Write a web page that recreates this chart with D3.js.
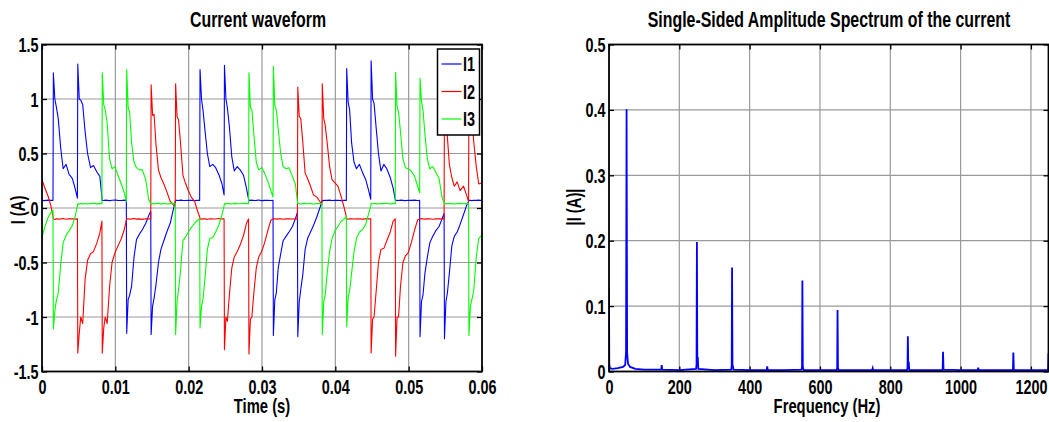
<!DOCTYPE html>
<html><head><meta charset="utf-8">
<script src="https://cdn.jsdelivr.net/npm/d3@7"></script>
<style>body{margin:0;background:#fff}svg{display:block}</style>
</head><body><svg id="c" width="1049" height="422"></svg>
<script>
// ---------- DATA ----------
// switching events of the 6-pulse waveform (s); each segment runs from one event to the next
const eventTimes = [-0.00178,0.00155,0.00488,0.00822,0.01155,0.01488,0.01822,0.02155,0.02488,0.02822,0.03155,0.03488,0.03822,0.04155,0.04488,0.04822,0.05155,0.05488,0.05822,0.06155];
// position of each reading inside a segment (fraction of the segment)
const sampleOffsets = [0,0.06,0.12,0.2,0.3,0.4,0.52,0.64,0.78,0.9,0.985];
// current readings (A), one row per segment
const I1 = [
 [0.07,0.072,0.068,0.07,0.073,0.069,0.071,0.068,0.072,0.07,0.07],
 [1.24,1.0,0.93,0.82,0.55,0.36,0.40,0.31,0.27,0.17,0.09],
 [1.32,1.0,0.99,0.95,0.70,0.50,0.37,0.39,0.33,0.29,0.10],
 [0.07,0.069,0.072,0.07,0.068,0.071,0.073,0.07,0.069,0.072,0.07],
 [-1.15,-0.84,-0.80,-0.72,-0.45,-0.29,-0.24,-0.20,-0.14,-0.07,-0.03],
 [-1.16,-0.90,-0.83,-0.70,-0.50,-0.38,-0.30,-0.22,-0.14,-0.02,0.06],
 [0.07,0.071,0.068,0.072,0.07,0.069,0.071,0.07,0.068,0.071,0.07],
 [1.27,1.0,0.9,0.72,0.5,0.38,0.40,0.37,0.30,0.22,0.12],
 [1.31,1.0,0.92,0.75,0.47,0.34,0.38,0.35,0.30,0.18,0.08],
 [0.07,0.07,0.072,0.069,0.07,0.073,0.068,0.07,0.071,0.069,0.07],
 [-1.17,-0.84,-0.78,-0.55,-0.42,-0.30,-0.26,-0.22,-0.17,-0.10,-0.04],
 [-1.18,-0.86,-0.75,-0.62,-0.38,-0.28,-0.22,-0.16,-0.08,0.0,0.06],
 [0.07,0.068,0.071,0.07,0.072,0.069,0.07,0.071,0.068,0.07,0.07],
 [1.28,0.97,0.9,0.6,0.42,0.36,0.40,0.33,0.26,0.16,0.08],
 [1.35,1.0,0.96,0.75,0.5,0.34,0.40,0.36,0.28,0.18,0.08],
 [0.07,0.071,0.069,0.072,0.07,0.068,0.071,0.07,0.072,0.069,0.07],
 [-1.18,-0.86,-0.8,-0.6,-0.45,-0.32,-0.26,-0.21,-0.17,-0.1,-0.05],
 [-1.20,-0.86,-0.78,-0.6,-0.35,-0.26,-0.22,-0.15,-0.06,0.02,0.06],
 [0.07,0.07,0.068,0.071,0.07,0.072,0.069,0.07,0.071,0.07,0.07]
];
const I2 = [
 [1.15,0.86,0.82,0.62,0.45,0.34,0.27,0.19,0.11,0.02,-0.08],
 [-0.10,-0.105,-0.098,-0.102,-0.1,-0.097,-0.103,-0.1,-0.098,-0.102,-0.1],
 [-1.33,-1.15,-1.0,-1.06,-0.65,-0.48,-0.42,-0.40,-0.32,-0.23,-0.12],
 [-1.33,-1.1,-1.0,-1.06,-0.72,-0.5,-0.41,-0.35,-0.28,-0.2,-0.11],
 [-0.1,-0.098,-0.103,-0.1,-0.097,-0.102,-0.1,-0.104,-0.099,-0.1,-0.1],
 [1.13,0.85,0.86,0.58,0.35,0.28,0.22,0.15,0.06,0.03,0.02],
 [1.14,0.84,0.81,0.6,0.3,0.23,0.16,0.1,0.06,-0.03,-0.08],
 [-0.1,-0.102,-0.099,-0.1,-0.104,-0.098,-0.1,-0.101,-0.097,-0.1,-0.1],
 [-1.30,-1.0,-1.04,-0.8,-0.55,-0.45,-0.40,-0.34,-0.25,-0.14,-0.1],
 [-1.34,-1.02,-1.0,-0.78,-0.55,-0.45,-0.40,-0.32,-0.2,-0.11,-0.1],
 [-0.1,-0.099,-0.102,-0.1,-0.098,-0.103,-0.1,-0.099,-0.101,-0.1,-0.1],
 [1.11,0.84,0.82,0.62,0.32,0.27,0.2,0.12,0.1,0.06,0.03],
 [1.14,0.82,0.76,0.6,0.38,0.26,0.23,0.2,0.1,0.0,-0.08],
 [-0.1,-0.103,-0.099,-0.1,-0.101,-0.098,-0.1,-0.102,-0.1,-0.099,-0.1],
 [-1.33,-1.02,-1.0,-0.78,-0.5,-0.38,-0.37,-0.3,-0.22,-0.12,-0.1],
 [-1.36,-1.0,-1.0,-0.72,-0.5,-0.44,-0.41,-0.32,-0.2,-0.11,-0.1],
 [-0.1,-0.1,-0.098,-0.102,-0.1,-0.099,-0.103,-0.1,-0.098,-0.1,-0.1],
 [1.12,0.84,0.65,0.4,0.28,0.2,0.24,0.16,0.2,0.12,0.06],
 [1.15,0.85,0.8,0.6,0.38,0.22,0.23,0.2,0.1,0.0,-0.08]
];
const I3 = [
 [-1.15,-0.9,-0.85,-0.75,-0.55,-0.38,-0.28,-0.18,-0.09,-0.04,-0.02],
 [-1.11,-0.95,-0.85,-0.78,-0.52,-0.32,-0.25,-0.21,-0.16,-0.07,0.02],
 [0.04,0.035,0.042,0.038,0.041,0.036,0.04,0.043,0.038,0.04,0.04],
 [1.24,0.95,0.9,0.78,0.45,0.36,0.38,0.3,0.22,0.14,0.06],
 [1.27,0.92,0.88,0.6,0.42,0.37,0.35,0.35,0.26,0.08,0.04],
 [0.04,0.042,0.037,0.04,0.043,0.038,0.041,0.036,0.04,0.042,0.04],
 [-1.16,-0.86,-0.75,-0.58,-0.3,-0.27,-0.22,-0.18,-0.14,-0.11,-0.1],
 [-1.10,-0.9,-0.84,-0.65,-0.38,-0.28,-0.27,-0.22,-0.15,-0.06,0.02],
 [0.04,0.038,0.041,0.04,0.036,0.042,0.04,0.039,0.043,0.04,0.04],
 [1.24,0.92,0.9,0.68,0.42,0.35,0.37,0.32,0.24,0.16,0.1],
 [1.30,0.94,0.9,0.72,0.5,0.38,0.36,0.37,0.29,0.22,0.06],
 [0.04,0.041,0.037,0.04,0.042,0.039,0.04,0.036,0.041,0.04,0.04],
 [-1.16,-0.86,-0.8,-0.6,-0.4,-0.28,-0.21,-0.17,-0.12,-0.1,-0.08],
 [-1.09,-0.82,-0.76,-0.6,-0.4,-0.28,-0.22,-0.2,-0.15,-0.05,0.02],
 [0.04,0.039,0.042,0.04,0.037,0.041,0.04,0.043,0.038,0.04,0.04],
 [1.245,0.93,0.88,0.7,0.45,0.37,0.36,0.34,0.29,0.2,0.14],
 [1.19,0.98,0.9,0.68,0.45,0.36,0.38,0.33,0.27,0.1,0.05],
 [0.04,0.042,0.038,0.04,0.041,0.037,0.04,0.042,0.039,0.04,0.04],
 [-1.17,-0.9,-0.84,-0.75,-0.45,-0.28,-0.25,-0.2,-0.15,-0.1,-0.08]
];
const seriesNames = ["I1","I2","I3"];
const seriesColors = ["#0000ff","#ff0000","#00ff00"];
const timeTicks = [0,0.01,0.02,0.03,0.04,0.05,0.06];
const currentTicks = [-1.5,-1,-0.5,0,0.5,1,1.5];

// single-sided spectrum |I(f)|
const specFreq = [0,0.8,2.5,10,25,40,46,48.5,50,51.5,54,60,75,100,148.5,150,151.5,200,247.5,249,250,251.2,252.5,254,300,347.5,349,350,351.2,352.5,354,400,448.5,450,451.5,500,547.5,549,550,551.2,552.5,554,600,647.5,649,650,651.2,652.5,654,700,748.5,750,751.5,800,847.5,849,850,851.2,852.5,854,900,947.5,949,950,951.5,1000,1048.5,1050,1051.5,1100,1147.5,1149,1150,1151.5,1200,1247.5,1249,1250];
const specAmp  = [0.127,0.012,0.005,0.004,0.005,0.007,0.01,0.03,0.401,0.03,0.012,0.007,0.004,0.003,0.003,0.0096,0.003,0.002,0.004,0.01,0.198,0.012,0.022,0.004,0.002,0.003,0.008,0.159,0.01,0.008,0.003,0.002,0.002,0.008,0.002,0.002,0.003,0.006,0.139,0.008,0.004,0.002,0.002,0.002,0.006,0.094,0.006,0.003,0.002,0.002,0.002,0.005,0.002,0.002,0.002,0.005,0.054,0.005,0.015,0.002,0.002,0.002,0.004,0.030,0.003,0.002,0.002,0.006,0.002,0.002,0.002,0.004,0.029,0.002,0.002,0.002,0.005,0.028];
const freqTicks = [0,200,400,600,800,1000,1200];
const ampTicks = [0,0.1,0.2,0.3,0.4,0.5];

// ---------- DRAW ----------
const FONT = "'Liberation Sans',Arial,sans-serif";
const SX = 0.74;
const svg = d3.select("#c");

function label(x, y, txt, size, anchor, rot) {
  const g = svg.append("g").attr("transform", `translate(${x},${y})${rot ? ` rotate(${rot})` : ""} scale(${SX},1)`);
  g.append("text").attr("text-anchor", anchor).attr("font-family", FONT)
    .attr("font-weight", "bold").attr("font-size", size).attr("fill", "#000").text(txt);
}

function frame(x, y, xt, yt, xfmt, yfmt, id) {
  const [x0, x1] = x.range(), [y1, y0] = y.range();
  const g = svg.append("g");
  g.append("g").selectAll("line").data(xt.filter(v => x(v) > x0 + 1 && x(v) < x1 - 1)).join("line")
    .attr("x1", d => x(d)).attr("x2", d => x(d)).attr("y1", y0).attr("y2", y1)
    .attr("stroke", "#9a9a9a").attr("stroke-width", 1.2);
  g.append("g").selectAll("line").data(yt.filter(v => y(v) > y0 + 1 && y(v) < y1 - 1)).join("line")
    .attr("y1", d => y(d)).attr("y2", d => y(d)).attr("x1", x0).attr("x2", x1)
    .attr("stroke", "#9a9a9a").attr("stroke-width", 1.2);
  const axB = svg.append("g").attr("transform", `translate(0,${y1})`).call(d3.axisBottom(x).tickValues(xt).tickSize(-5).tickFormat(xfmt));
  const axT = svg.append("g").attr("transform", `translate(0,${y0})`).call(d3.axisTop(x).tickValues(xt).tickSize(-5).tickFormat(""));
  const axL = svg.append("g").attr("transform", `translate(${x0},0)`).call(d3.axisLeft(y).tickValues(yt).tickSize(-5).tickFormat(yfmt));
  const axR = svg.append("g").attr("transform", `translate(${x1},0)`).call(d3.axisRight(y).tickValues(yt).tickSize(-5).tickFormat(""));
  [axB, axT, axL, axR].forEach(a => { a.select(".domain").remove(); a.selectAll("line").attr("stroke", "#000").attr("stroke-width", 1.3); });
  axB.selectAll("text").attr("y", 0).attr("dy", 0)
    .attr("transform", `translate(0,22.5) scale(${SX},1)`)
    .attr("font-family", FONT).attr("font-weight", "bold").attr("font-size", 19.5).attr("fill", "#000");
  axL.selectAll("text").attr("x", 0).attr("dy", "0.36em")
    .attr("transform", `translate(-3.5,0) scale(${SX},1)`)
    .attr("font-family", FONT).attr("font-weight", "bold").attr("font-size", 19.5).attr("fill", "#000");
  svg.append("defs").append("clipPath").attr("id", id).append("rect")
    .attr("x", x0).attr("y", y0).attr("width", x1 - x0).attr("height", y1 - y0);
  return () => svg.append("rect").attr("x", x0).attr("y", y0).attr("width", x1 - x0).attr("height", y1 - y0)
    .attr("fill", "none").attr("stroke", "#000").attr("stroke-width", 1.8);
}

// ---- left: current waveform ----
const xT = d3.scaleLinear().domain([0, 0.06]).range([42, 482]);
const yI = d3.scaleLinear().domain([-1.5, 1.5]).range([371.5, 44.5]);
const fmtT = d => d === 0 ? "0" : d3.format(".2f")(d);
const fmtI = d => (d === 0 ? "0" : String(d));
const borderL = frame(xT, yI, timeTicks, currentTicks, fmtT, fmtI, "clipL");

const line = d3.line().x(d => xT(d[0])).y(d => yI(d[1]));
[I1, I2, I3].forEach((segs, si) => {
  const pts = [];
  segs.forEach((row, s) => {
    const t0 = eventTimes[s], dt = eventTimes[s + 1] - eventTimes[s];
    row.forEach((v, j) => pts.push([t0 + sampleOffsets[j] * dt, v]));
  });
  svg.append("path").attr("clip-path", "url(#clipL)").attr("d", line(pts))
    .attr("fill", "none").attr("stroke", seriesColors[si]).attr("stroke-width", 1.1)
    .attr("stroke-linejoin", "round");
});
borderL();

// legend
const lg = svg.append("g");
lg.append("rect").attr("x", 437.5).attr("y", 49).attr("width", 42).attr("height", 86)
  .attr("fill", "#fff").attr("stroke", "#000").attr("stroke-width", 1.5);
seriesNames.forEach((n, i) => {
  const yy = 64 + i * 27.5;
  lg.append("line").attr("x1", 441.5).attr("x2", 461.5).attr("y1", yy).attr("y2", yy)
    .attr("stroke", seriesColors[i]).attr("stroke-width", 1.2);
  label(463, yy + 7, n, 19.5, "start");
});

label(258, 26.5, "Current waveform", 21.5, "middle");
label(262, 413, "Time (s)", 20, "middle");
label(25, 210, "I (A)", 20, "middle", -90);

// ---- right: spectrum ----
const xF = d3.scaleLinear().domain([0, 1250]).range([609, 1048.5]);
const yA = d3.scaleLinear().domain([0, 0.5]).range([371.5, 44.5]);
const borderR = frame(xF, yA, freqTicks, ampTicks, d => String(d), d => (d === 0 ? "0" : String(d)), "clipR");
const sline = d3.line().x((d, i) => xF(specFreq[i])).y(d => yA(d));
svg.append("path").attr("clip-path", "url(#clipR)").attr("d", sline(specAmp))
  .attr("fill", "none").attr("stroke", "#0000ff").attr("stroke-width", 1.8);
borderR();

label(829, 26.5, "Single-Sided Amplitude Spectrum of the current", 21.5, "middle");
label(827, 413, "Frequency (Hz)", 20, "middle");
label(581, 207, "|I (A)|", 20, "middle", -90);
</script></body></html>
